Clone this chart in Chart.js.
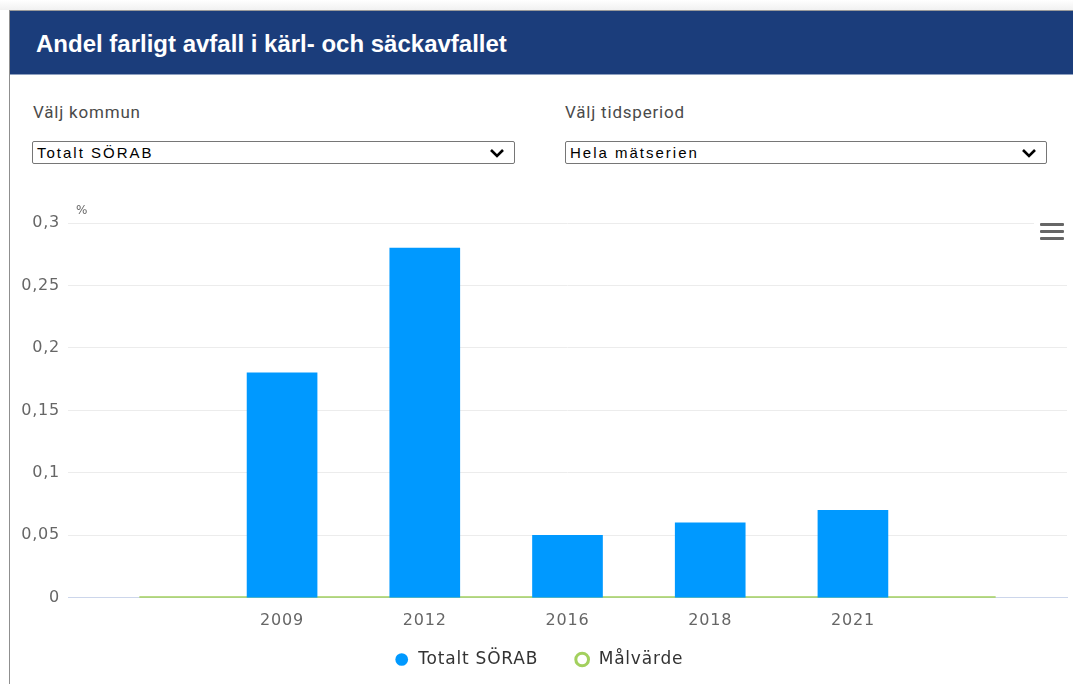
<!DOCTYPE html>
<html lang="sv">
<head>
<meta charset="utf-8">
<script src="https://cdn.jsdelivr.net/npm/chart.js@4/dist/chart.umd.min.js"></script>
<style>
  html, body { margin: 0; padding: 0; background: #ffffff; }
  body { width: 1073px; height: 684px; position: relative; overflow: hidden; font-family: Roboto, "Liberation Sans", Arial, sans-serif; }
  .topshade { position: absolute; left: 0; top: 0; width: 1073px; height: 10px; background: linear-gradient(#ffffff, #f1f1f1); }
  .card { position: absolute; left: 9px; top: 10px; width: 1070px; height: 690px; border-left: 1px solid #8f8f8f; border-top: 1px solid #9a9a9a; background: #fff; }
  .header { position: absolute; left: 10px; top: 11px; width: 1063px; height: 63px; background: #1b3d7b; border-bottom: 1px solid #8ea0c0; }
  .header h1 { margin: 0; position: absolute; left: 26px; top: 19px; color: #fff; font: bold 24px "Liberation Sans", Arial, sans-serif; letter-spacing: 0px; white-space: nowrap; }
  .lbl { position: absolute; top: 102px; font: 17px Roboto, "Liberation Sans", sans-serif; letter-spacing: 0.8px; color: #4a4a4a; white-space: nowrap; }
  .sel { position: absolute; top: 141px; height: 21px; border: 1px solid #767676; border-radius: 2px; background: #fff; box-sizing: content-box; font: 15px "Liberation Sans", Arial, sans-serif; letter-spacing: 2px; color: #000; line-height: 21px; padding-left: 4px; white-space: nowrap; }
  .sel svg { position: absolute; right: 9px; top: 6px; }
  .chartbox { position: absolute; left: 10px; top: 180px; width: 1063px; height: 526px; }
  .burger { position: absolute; left: 1034px; top: 216px; width: 36px; height: 30px; background: #fff; }
  .burger span { position: absolute; left: 6px; width: 24px; height: 3px; background: #666; border-radius: 1px; }
</style>
</head>
<body>
<div class="topshade"></div>
<div class="card"></div>
<div class="header"><h1>Andel farligt avfall i kärl- och säckavfallet</h1></div>
<div class="lbl" style="left:33px;">Välj kommun</div>
<div class="lbl" style="left:565px;">Välj tidsperiod</div>
<div class="sel" style="left:32px; width:477px;">Totalt SÖRAB<svg width="16" height="10" viewBox="0 0 16 10"><path d="M2 2 L8 8 L14 2" fill="none" stroke="#000" stroke-width="2.6"/></svg></div>
<div class="sel" style="left:565px; width:476px;">Hela mätserien<svg width="16" height="10" viewBox="0 0 16 10"><path d="M2 2 L8 8 L14 2" fill="none" stroke="#000" stroke-width="2.6"/></svg></div>
<div class="chartbox"><canvas id="c"></canvas></div>
<div class="burger"><span style="top:7px"></span><span style="top:14px"></span><span style="top:21px"></span></div>
<script>
const categories = ['', '2009', '2012', '2016', '2018', '2021', ''];
const sorabValues = [null, 0.18, 0.28, 0.05, 0.06, 0.07, null];
const malvardeValues = [0, 0, 0, 0, 0, 0, 0];
const yTicks = [0, 0.05, 0.1, 0.15, 0.2, 0.25, 0.3];
const seriesNames = ['Totalt SÖRAB', 'Målvärde'];
const yUnit = '%';

const BLUE = '#0099ff';
const GREEN = '#a3d05e';
const SPACING = '0.8px';
const LEGEND_SHIFT = 28;

const spacingPlugin = {
  id: 'spacing',
  beforeInit(chart) { chart.ctx.letterSpacing = SPACING; },
  beforeLayout(chart) { chart.ctx.letterSpacing = SPACING; },
  afterLayout(chart) {
    const lg = chart.legend;
    if (lg) { lg.top -= LEGEND_SHIFT; lg.bottom -= LEGEND_SHIFT; }
  },
  beforeDraw(chart) { chart.ctx.letterSpacing = SPACING; }
};
const unitPlugin = {
  id: 'unit',
  afterDraw(chart) {
    const ctx = chart.ctx, a = chart.chartArea;
    ctx.save();
    ctx.letterSpacing = '0px';
    ctx.font = '12px "DejaVu Sans"';
    ctx.fillStyle = '#666';
    ctx.textBaseline = 'middle';
    ctx.textAlign = 'left';
    ctx.fillText(yUnit, a.left + 8, a.top - 12);
    ctx.restore();
  }
};

new Chart(document.getElementById('c'), {
  data: {
    labels: categories,
    datasets: [
      { type: 'bar', label: seriesNames[0], data: sorabValues, backgroundColor: BLUE, borderWidth: 0, barThickness: 70, order: 0 },
      { type: 'line', label: seriesNames[1], data: malvardeValues, borderColor: GREEN, backgroundColor: '#ffffff', borderWidth: 3, pointRadius: 0, order: 1 }
    ]
  },
  options: {
    responsive: true,
    maintainAspectRatio: false,
    animation: false,
    layout: { padding: { top: 43, right: 6, left: 0, bottom: 0 } },
    scales: {
      x: {
        grid: { display: false, drawTicks: false },
        border: { color: '#ccd6eb', width: 1 },
        ticks: { color: '#666', padding: 13, font: { family: 'DejaVu Sans', size: 16 }, maxRotation: 0, autoSkip: false }
      },
      y: {
        min: 0, max: 0.3,
        afterBuildTicks(s) { s.ticks = yTicks.map(v => ({ value: v })); },
        afterFit(s) { s.width = 58; },
        grid: { color: '#ececec', drawTicks: false },
        border: { display: false },
        ticks: {
          color: '#666', padding: 8, font: { family: 'DejaVu Sans', size: 16 },
          callback: v => String(Math.round(v * 100) / 100).replace('.', ',')
        }
      }
    },
    plugins: {
      tooltip: { enabled: false },
      legend: {
        position: 'bottom',
        labels: {
          usePointStyle: true,
          boxWidth: 16, boxHeight: 9,
          padding: 36,
          color: '#333',
          font: { family: 'DejaVu Sans', size: 17 },
          generateLabels(chart) {
            return chart.data.datasets.map((d, i) => ({
              text: d.label,
              fillStyle: i === 0 ? BLUE : '#ffffff',
              strokeStyle: i === 0 ? BLUE : GREEN,
              lineWidth: i === 0 ? 0 : 3,
              pointStyle: 'circle',
              fontColor: '#333',
              hidden: false,
              datasetIndex: i
            }));
          }
        }
      }
    }
  },
  plugins: [spacingPlugin, unitPlugin]
});
</script>
</body>
</html>
